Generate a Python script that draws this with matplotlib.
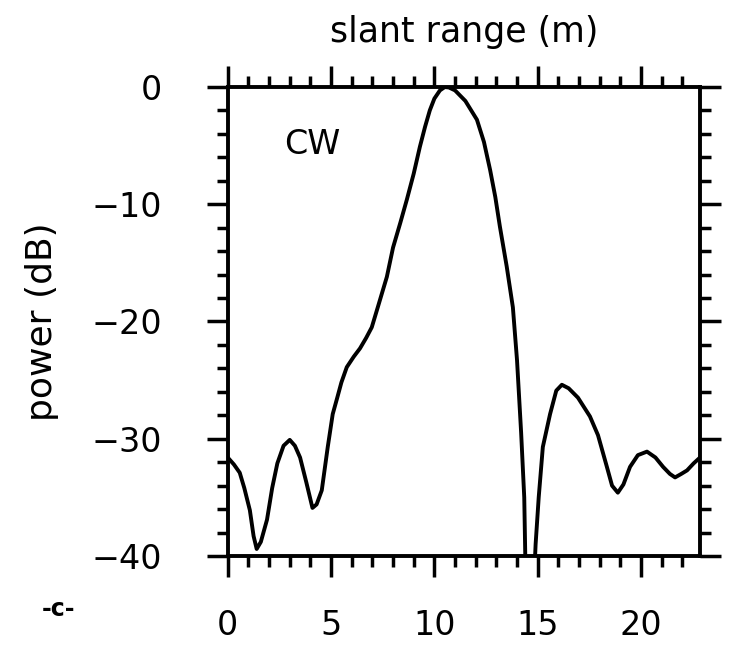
import numpy as np
import matplotlib.pyplot as plt
from matplotlib.ticker import MultipleLocator

# slant range (m) and power (dB)
slant_range = [0.0, 0.3, 0.58, 0.8, 1.07, 1.25, 1.4, 1.6, 1.9, 2.15, 2.4, 2.7,
               3.0, 3.25, 3.5, 3.8, 4.1, 4.3, 4.55, 4.84, 5.08, 5.3, 5.5, 5.76,
               6.1, 6.4, 6.7, 6.97, 7.26, 7.7, 8.0, 8.35, 8.67, 9.0, 9.3, 9.55,
               9.78, 10.0, 10.27, 10.5, 10.7, 11.0, 11.5, 12.06, 12.4, 12.7,
               12.95, 13.17, 13.5, 13.8, 14.0, 14.2, 14.35, 14.45, 14.75, 14.9,
               15.05, 15.25, 15.6, 15.9, 16.17, 16.5, 16.95, 17.53, 17.92, 18.35,
               18.6, 18.88, 19.15, 19.47, 19.85, 20.29, 20.7, 21.07, 21.4, 21.65,
               21.95, 22.23, 22.55, 22.86]
power_db = [-31.6, -32.2, -32.9, -34.2, -36.1, -38.3, -39.4, -38.8, -36.9, -34.2,
            -32.1, -30.6, -30.1, -30.6, -31.6, -33.7, -35.9, -35.6, -34.4, -30.7,
            -27.9, -26.5, -25.2, -23.9, -23.0, -22.3, -21.4, -20.5, -18.8, -16.2,
            -13.7, -11.6, -9.6, -7.4, -5.1, -3.4, -2.0, -1.0, -0.3, -0.02, -0.05,
            -0.3, -1.2, -2.8, -4.7, -7.1, -9.4, -11.9, -15.3, -18.8, -23.3, -29.5,
            -35.0, -45.0, -45.0, -39.0, -35.0, -30.7, -27.9, -25.9, -25.4, -25.7,
            -26.5, -28.1, -29.7, -32.4, -34.0, -34.6, -33.9, -32.4, -31.4, -31.1,
            -31.6, -32.4, -33.0, -33.3, -33.0, -32.7, -32.1, -31.6]

x_ticks = [0, 5, 10, 15, 20]
y_ticks = [0, -10, -20, -30, -40]

fig = plt.figure(figsize=(7.3, 6.58), dpi=100)
ax = fig.add_axes([0.312, 0.155, 0.647, 0.713])

ax.plot(slant_range, power_db, color='black', lw=2.8,
        solid_joinstyle='round', solid_capstyle='round')

ax.set_xlim(0, 22.86)
ax.set_ylim(-40, 0)
ax.set_xticks(x_ticks)
ax.set_yticks(y_ticks)
ax.set_yticklabels(['0', '\u221210', '\u221220', '\u221230', '\u221240'])
ax.xaxis.set_minor_locator(MultipleLocator(1))
ax.yaxis.set_minor_locator(MultipleLocator(2))

for s in ax.spines.values():
    s.set_linewidth(2.8)

ax.tick_params(which='both', direction='out', top=True, right=True,
               width=2.5, labelsize=24, color='black')
ax.tick_params(which='major', length=15)
ax.tick_params(which='minor', length=8)
ax.tick_params(axis='x', which='major', pad=23)
ax.tick_params(axis='y', which='major', pad=32)

ax.set_ylabel('power (dB)', fontsize=26, labelpad=24)
ax.set_title('slant range (m)', fontsize=25, pad=32)

ax.text(4.07, -4.95, 'CW', fontsize=24, ha='center', va='center')
fig.text(0.08, 0.075, '-c-', fontsize=17, fontweight='bold', ha='center', va='center')

fig.savefig('out.png', dpi=100, facecolor='white')
